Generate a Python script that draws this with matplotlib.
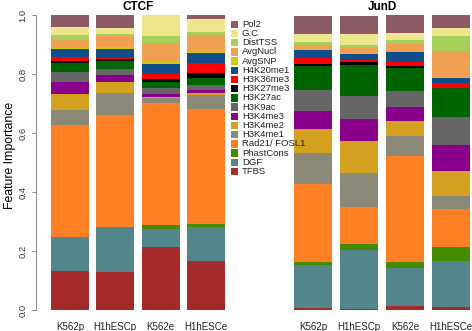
import matplotlib
matplotlib.use("Agg")
import matplotlib.pyplot as plt
from matplotlib.patches import Rectangle
import numpy as np

plt.rcParams['font.family'] = ['Liberation Sans', 'DejaVu Sans']

# Features, bottom of stack first
features = ["TFBS", "DGF", "PhastCons", "Rad21/ FOSL1", "H3K4me1", "H3K4me2", "H3K4me3",
            "H3K9ac", "H3K27ac", "H3K27me3", "H3K36me3", "H4K20me1", "AvgSNP", "AvgNucl",
            "DistTSS", "G.C", "Pol2"]
colors = ["#A52A2A", "#53868B", "#458B00", "#FF7F24", "#8B8878", "#D4A020", "#8B008B",
          "#666666", "#006400", "#000000", "#FF0000", "#104E8B", "#CDCD00", "#F0A050",
          "#A6D05A", "#EEE68C", "#8B5A65"]

samples = ["K562p", "H1hESCp", "K562e", "H1hESCe"]

# CTCF values per sample (same order as features)
ctcf_K562p   = [0.132, 0.116, 0.000, 0.379, 0.051, 0.053, 0.042, 0.033, 0.0305, 0.009, 0.0115, 0.027, 0.003, 0.029, 0.016, 0.026, 0.045]
ctcf_H1hESCp = [0.129, 0.152, 0.000, 0.381, 0.074, 0.038, 0.021, 0.023, 0.027, 0.007, 0.002, 0.031, 0.006, 0.039, 0.004, 0.023, 0.048]
ctcf_K562e   = [0.215, 0.059, 0.014, 0.415, 0.017, 0.003, 0.009, 0.019, 0.021, 0.0125, 0.015, 0.036, 0.006, 0.062, 0.025, 0.071, 0.000]
ctcf_H1hESCe = [0.165, 0.117, 0.011, 0.390, 0.045, 0.008, 0.009, 0.017, 0.026, 0.016, 0.032, 0.034, 0.004, 0.059, 0.011, 0.043, 0.014]

# JunD values per sample
jund_K562p   = [0.006, 0.145, 0.011, 0.265, 0.104, 0.081, 0.063, 0.070, 0.081, 0.009, 0.020, 0.027, 0.003, 0.014, 0.009, 0.026, 0.064]
jund_H1hESCp = [0.003, 0.202, 0.018, 0.127, 0.115, 0.108, 0.073, 0.079, 0.104, 0.012, 0.005, 0.023, 0.002, 0.022, 0.005, 0.039, 0.060]
jund_K562e   = [0.014, 0.128, 0.020, 0.361, 0.068, 0.051, 0.045, 0.056, 0.078, 0.007, 0.014, 0.031, 0.003, 0.027, 0.011, 0.026, 0.062]
jund_H1hESCe = [0.009, 0.157, 0.046, 0.130, 0.044, 0.086, 0.087, 0.094, 0.098, 0.002, 0.015, 0.019, 0.002, 0.090, 0.049, 0.028, 0.047]

ctcf = np.array([ctcf_K562p, ctcf_H1hESCp, ctcf_K562e, ctcf_H1hESCe]).T
jund = np.array([jund_K562p, jund_H1hESCp, jund_K562e, jund_H1hESCe]).T

W, H = 472, 331
fig = plt.figure(figsize=(W / 100, H / 100), dpi=100)
bw = 0.83

def panel(rect, data, title, yaxis):
    ax = fig.add_axes(rect)
    x = np.arange(len(samples))
    bottom = np.zeros(len(samples))
    for i, f in enumerate(features):
        ax.bar(x, data[i], bottom=bottom, width=bw, color=colors[i], linewidth=0)
        bottom += data[i]
    ax.set_xlim(-bw / 2, len(samples) - 1 + bw / 2)
    ax.set_ylim(0, 1)
    for s in ["top", "right", "bottom"]:
        ax.spines[s].set_visible(False)
    ax.set_xticks(x)
    ax.set_xticklabels(samples, fontsize=7, color="#222222")
    ax.tick_params(axis="x", length=0, pad=9)
    ax.set_title(title, fontsize=8.5, fontweight="bold", pad=3.5)
    if yaxis:
        ax.spines["left"].set_position(("outward", 10.8))
        ax.spines["left"].set_bounds(0, 1)
        ax.spines["left"].set_color("#888888")
        ax.spines["left"].set_linewidth(0.7)
        ax.set_yticks(np.arange(0, 1.01, 0.2))
        ax.set_yticklabels([f"{v:.1f}" for v in np.arange(0, 1.01, 0.2)],
                           rotation=90, va="center", fontsize=6.8, color="#333333")
        ax.tick_params(axis="y", length=3, width=0.7, color="#888888", pad=3)
        ax.set_ylabel("Feature Importance", fontsize=8.8)
    else:
        ax.spines["left"].set_visible(False)
        ax.set_yticks([])
    return ax

ax1 = panel([51 / W, 21 / H, 174 / W, 295 / H], ctcf, "CTCF", True)
ax2 = panel([294 / W, 21 / H, 176 / W, 295 / H], jund, "JunD", False)
ax1.yaxis.set_label_coords(-0.2, 0.525)

# Legend (top entry Pol2, reading down to TFBS)
x0, y0, step = 231, 24.3, 9.2
for k, i in enumerate(range(len(features) - 1, -1, -1)):
    yc = y0 + k * step
    fig.add_artist(Rectangle((x0 / W, 1 - (yc + 3.7) / H), 7.5 / W, 7.4 / H,
                             transform=fig.transFigure, color=colors[i], linewidth=0))
    fig.text(242 / W, 1 - yc / H, features[i], fontsize=6.8, va="center", ha="left",
             color="#222222")

fig.savefig("out.png", dpi=100)
